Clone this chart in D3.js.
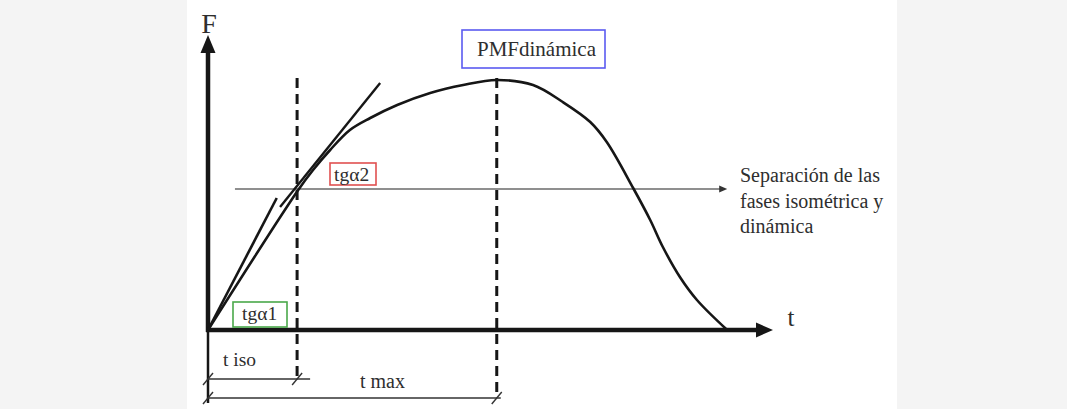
<!DOCTYPE html>
<html>
<head>
<meta charset="utf-8">
<script src="https://cdn.jsdelivr.net/npm/d3@7"></script>
<style>
  html, body { margin: 0; padding: 0; background: #f4f4f4; }
  svg { display: block; }
</style>
</head>
<body>
<script>
// ---- data (t in arbitrary time units 0-100, F in % of peak force) ----
const curveT = [0, 16.4, 19.1, 22.2, 25.8, 29.5, 34.4, 40.4, 46.4, 52.5, 59.1, 64.5, 69.5, 72.5, 77.3, 80.4, 82.7, 85.8, 88.9, 94.4];
const curveF = [0, 56, 64, 72, 80, 84.8, 90, 94.8, 98, 100, 98, 91.2, 83.2, 75.2, 56.8, 44, 33.2, 21.2, 12, 0];
const tangent1T = [0, 12.5];
const tangent1F = [0, 52.8];
const tangent2T = [13.1, 31.3];
const tangent2F = [49.2, 98.8];
const tIso = 16.2;
const tMax = 52.5;
const separationF = 56.4;
const separationT = [4.9, 94.4];
const axisLabels = ["F", "t"];
const annotationLabels = ["PMFdinámica", "tgα2", "tgα1", "t iso", "t max"];
const separationLines = ["Separación de las", "fases isométrica y", "dinámica"];

const W = 1067, H = 409;
const FONT = "'Liberation Serif', 'Times New Roman', 'DejaVu Serif', serif";
const x = d3.scaleLinear().domain([0, 100]).range([208, 758]);
const y = d3.scaleLinear().domain([0, 100]).range([330, 80]);

const svg = d3.select("body").append("svg").attr("width", W).attr("height", H);
svg.append("rect").attr("x", 0).attr("y", 0).attr("width", W).attr("height", H).attr("fill", "#f4f4f4");
svg.append("rect").attr("x", 187).attr("y", 0).attr("width", 710).attr("height", H).attr("fill", "#ffffff");

const ink = "#161616";
function label(xx, yy, txt, fs, anchor) {
  return svg.append("text").attr("x", xx).attr("y", yy)
    .attr("font-family", FONT).attr("font-size", fs)
    .attr("fill", "#2e2e2e").attr("text-anchor", anchor || "start").text(txt);
}

// separation line (gray) with small arrow
const sy = y(separationF);
svg.append("line")
  .attr("x1", x(separationT[0])).attr("x2", x(separationT[1]) - 5)
  .attr("y1", sy).attr("y2", sy)
  .attr("stroke", "#6a6a6a").attr("stroke-width", 1.6);
svg.append("path")
  .attr("d", `M${x(separationT[1])},${sy} l-8,-3.5 l0,7 Z`)
  .attr("fill", "#333");

// dashed verticals
svg.append("line").attr("x1", x(tIso)).attr("x2", x(tIso))
  .attr("y1", y(100.8)).attr("y2", 380)
  .attr("stroke", ink).attr("stroke-width", 3).attr("stroke-dasharray", "10,6");
svg.append("line").attr("x1", x(tMax)).attr("x2", x(tMax))
  .attr("y1", y(100.8)).attr("y2", 398)
  .attr("stroke", ink).attr("stroke-width", 3).attr("stroke-dasharray", "10,6");

// axes
const x0 = x(0), y0 = y(0);
svg.append("line").attr("x1", x0).attr("x2", x0).attr("y1", y0 + 2).attr("y2", 50)
  .attr("stroke", ink).attr("stroke-width", 4.5);
svg.append("path").attr("d", `M${x0},35 L${x0 - 7.5},53 L${x0 + 7.5},53 Z`).attr("fill", ink);
svg.append("line").attr("x1", x0).attr("x2", x0).attr("y1", y0).attr("y2", 403)
  .attr("stroke", ink).attr("stroke-width", 2.5);
svg.append("line").attr("x1", x0 - 2).attr("x2", 760).attr("y1", y0).attr("y2", y0)
  .attr("stroke", ink).attr("stroke-width", 4.5);
svg.append("path").attr("d", `M773,${y0} L756,${y0 - 7.5} L756,${y0 + 7.5} Z`).attr("fill", ink);

// curve
const pts = curveT.map((t, i) => [t, curveF[i]]);
const line = d3.line().x(d => x(d[0])).y(d => y(d[1])).curve(d3.curveCatmullRom.alpha(0.5));
svg.append("path").datum(pts).attr("d", line)
  .attr("fill", "none").attr("stroke", ink).attr("stroke-width", 2.6).attr("stroke-linejoin", "round");

// tangents
const seg = d3.line().x(d => x(d[0])).y(d => y(d[1]));
svg.append("path").datum(tangent1T.map((t, i) => [t, tangent1F[i]])).attr("d", seg)
  .attr("fill", "none").attr("stroke", ink).attr("stroke-width", 2.6);
svg.append("path").datum(tangent2T.map((t, i) => [t, tangent2F[i]])).attr("d", seg)
  .attr("fill", "none").attr("stroke", ink).attr("stroke-width", 2.4);

// dimension lines
function dim(yy, xa, xb, extra) {
  svg.append("line").attr("x1", xa).attr("x2", xb + extra).attr("y1", yy).attr("y2", yy)
    .attr("stroke", "#333").attr("stroke-width", 1.6);
  [xa, xb].forEach(xx => {
    svg.append("line").attr("x1", xx - 5).attr("x2", xx + 5).attr("y1", yy + 6).attr("y2", yy - 6)
      .attr("stroke", "#333").attr("stroke-width", 1.4);
  });
}
dim(379, x0, x(tIso), 13);
dim(398, x0, x(tMax), 4);

// axis labels
label(209, 33, axisLabels[0], 28, "middle");
label(791, 326, axisLabels[1], 25, "middle");

// boxes
function boxLabel(bx, by, bw, bh, color, txt, fs, tx, ty) {
  svg.append("rect").attr("x", bx).attr("y", by).attr("width", bw).attr("height", bh)
    .attr("fill", "#fff").attr("stroke", color).attr("stroke-width", 1.6);
  label(tx, ty, txt, fs);
}
boxLabel(462, 30, 143, 38, "#5b5bf0", annotationLabels[0], 21, 477, 56);
boxLabel(330, 163, 46, 22, "#e05050", annotationLabels[1], 19.5, 334, 181);
boxLabel(233, 302, 54, 25, "#4aa84a", annotationLabels[2], 19.5, 242, 320);

label(223, 366, annotationLabels[3], 19.5);
label(360, 388, annotationLabels[4], 20);

separationLines.forEach((s, i) => {
  label(740, 182 + i * 25.5, s, 20);
});
</script>
</body>
</html>
